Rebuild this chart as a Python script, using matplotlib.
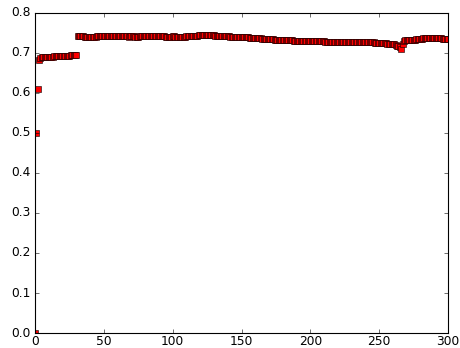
import matplotlib
matplotlib.use("Agg")
import matplotlib.pyplot as plt

plt.style.use("classic")

# x = 0..30, start-up part
x_first = list(range(0, 31))
y_first = [0.000, 0.500, 0.610, 0.683, 0.688,
           0.689, 0.690, 0.690, 0.690, 0.690, 0.690, 0.690, 0.690, 0.690, 0.691,
           0.691, 0.691, 0.691, 0.692, 0.692, 0.692, 0.692, 0.693, 0.693, 0.693,
           0.693, 0.694, 0.694, 0.694, 0.694, 0.694]

# x = 31..300
x_second = list(range(31, 301))
y_second = [
    0.743, 0.742, 0.742, 0.741, 0.741, 0.740, 0.740, 0.740, 0.740, 0.740,
    0.740, 0.740, 0.740, 0.740, 0.741, 0.741, 0.742, 0.742, 0.743, 0.743,
    0.743, 0.743, 0.743, 0.743, 0.742, 0.742, 0.742, 0.741, 0.741, 0.741,
    0.741, 0.741, 0.741, 0.741, 0.741, 0.741, 0.741, 0.740, 0.741, 0.741,
    0.741, 0.741, 0.740, 0.740, 0.740, 0.741, 0.741, 0.741, 0.741, 0.742,
    0.742, 0.741, 0.741, 0.741, 0.741, 0.741, 0.741, 0.741, 0.741, 0.741,
    0.741, 0.741, 0.741, 0.741, 0.740, 0.740, 0.740, 0.740, 0.740, 0.741,
    0.741, 0.740, 0.740, 0.740, 0.739, 0.739, 0.739, 0.740, 0.740, 0.741,
    0.741, 0.742, 0.742, 0.742, 0.742, 0.743, 0.743, 0.743, 0.744, 0.744,
    0.744, 0.745, 0.745, 0.745, 0.745, 0.745, 0.745, 0.744, 0.744, 0.744,
    0.743, 0.743, 0.743, 0.743, 0.742, 0.742, 0.742, 0.741, 0.741, 0.741,
    0.741, 0.740, 0.740, 0.740, 0.740, 0.740, 0.740, 0.740, 0.740, 0.740,
    0.740, 0.739, 0.739, 0.739, 0.739, 0.738, 0.738, 0.738, 0.737, 0.737,
    0.737, 0.736, 0.736, 0.736, 0.735, 0.735, 0.735, 0.735, 0.734, 0.734,
    0.734, 0.734, 0.734, 0.733, 0.733, 0.733, 0.733, 0.733, 0.733, 0.733,
    0.733, 0.732, 0.732, 0.732, 0.731, 0.731, 0.731, 0.730, 0.730, 0.730,
    0.730, 0.729, 0.729, 0.729, 0.729, 0.729, 0.729, 0.729, 0.729, 0.729,
    0.729, 0.729, 0.729, 0.729, 0.729, 0.729, 0.729, 0.729, 0.729, 0.729,
    0.728, 0.728, 0.728, 0.728, 0.728, 0.728, 0.728, 0.727, 0.727, 0.727,
    0.727, 0.727, 0.727, 0.727, 0.727, 0.727, 0.727, 0.727, 0.727, 0.727,
    0.727, 0.727, 0.726, 0.726, 0.726, 0.726, 0.726, 0.726, 0.726, 0.726,
    0.726, 0.726, 0.726, 0.726, 0.726, 0.726, 0.725, 0.725, 0.725, 0.725,
    0.725, 0.725, 0.724, 0.724, 0.724, 0.723, 0.723, 0.723, 0.722, 0.722,
    0.721, 0.720, 0.718, 0.716, 0.714, 0.710, 0.722, 0.730, 0.732, 0.733,
    0.733, 0.733, 0.733, 0.733, 0.733, 0.733, 0.734, 0.734, 0.734, 0.735,
    0.735, 0.736, 0.736, 0.736, 0.737, 0.737, 0.737, 0.737, 0.737, 0.737,
    0.737, 0.736, 0.736, 0.736, 0.736, 0.735, 0.735, 0.735, 0.735, 0.735,
]

x = x_first + x_second
y = y_first + y_second

fig = plt.figure(figsize=(5.75, 4.35), dpi=80)
ax = fig.add_axes([0.076, 0.043, 0.898, 0.92])
ax.plot(x, y, "s", color="red", markeredgecolor="black",
        markeredgewidth=0.5, markersize=5.5)
ax.set_xlim(0, 300)
ax.set_ylim(0, 0.8)
ax.set_xticks([0, 50, 100, 150, 200, 250, 300])
ax.set_yticks([0.0, 0.1, 0.2, 0.3, 0.4, 0.5, 0.6, 0.7, 0.8])
ax.tick_params(axis="both", labelsize=11)
ax.tick_params(axis="x", pad=2)

fig.savefig("out.png", dpi=80)
